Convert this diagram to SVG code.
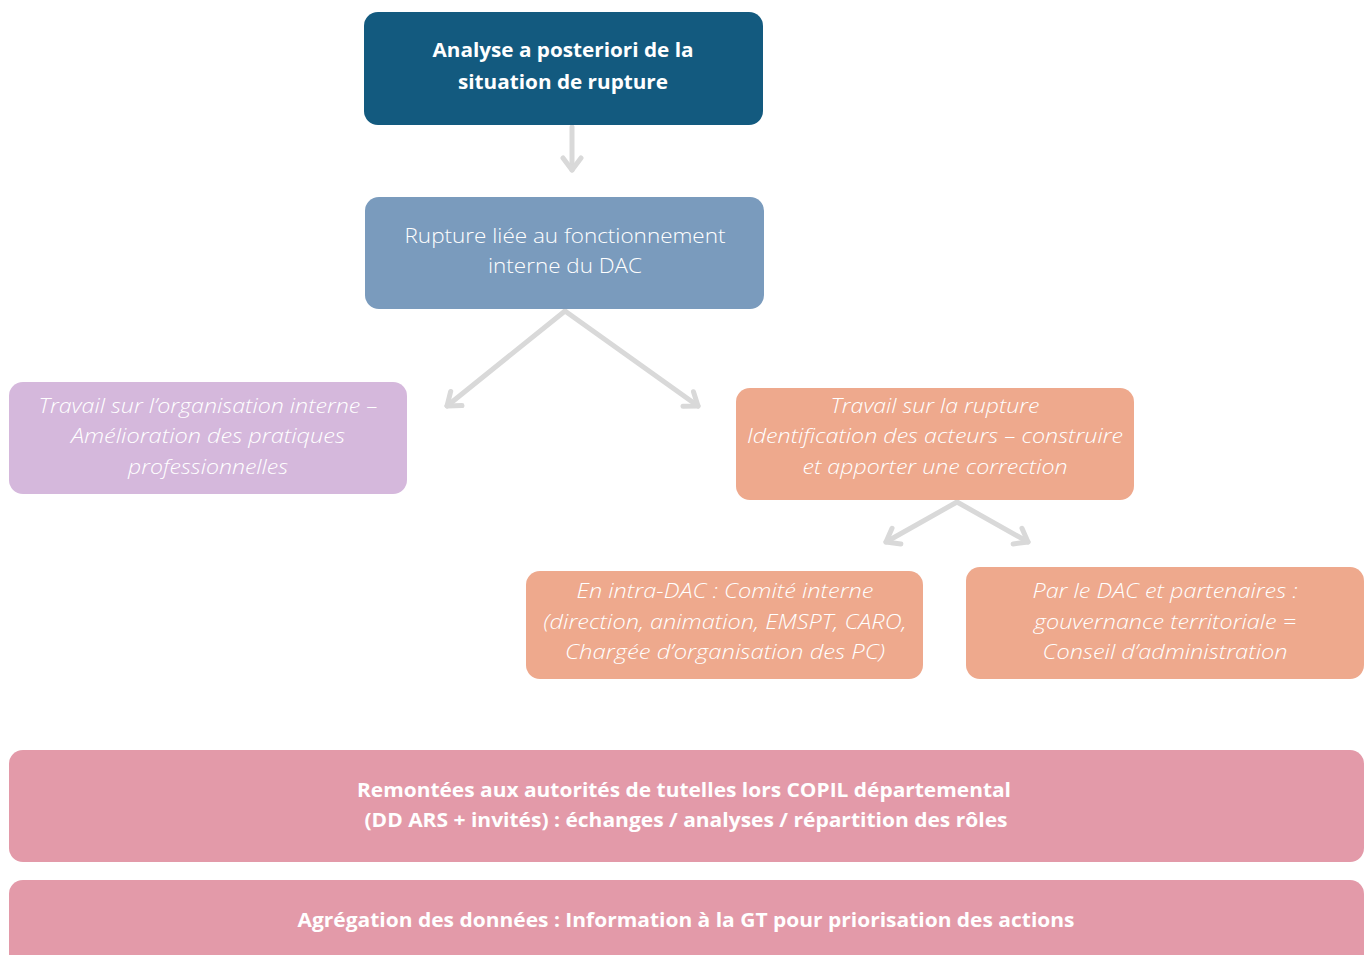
<svg xmlns="http://www.w3.org/2000/svg" width="1370" height="955" viewBox="0 0 1370 955">
<style>
.t{font-family:"Open Sans","Liberation Sans",sans-serif;font-size:20px;fill:#ffffff;text-anchor:middle}
.b{font-weight:700}
.l{font-weight:300}
.i{font-weight:300;font-style:italic}
.c{stroke:#d9d9d9;stroke-width:5;fill:none;stroke-linecap:round;marker-end:url(#h)}
</style>
<defs>
<marker id="h" markerUnits="userSpaceOnUse" viewBox="-16 -12 20 24" markerWidth="20" markerHeight="24" refX="0" refY="0" orient="auto">
<path d="M-12,-9 L0,0 L-12,9" fill="none" stroke="#d9d9d9" stroke-width="5" stroke-linecap="round" stroke-linejoin="round"/>
</marker>
</defs>
<rect width="1370" height="955" fill="#ffffff"/>
<g id="connectors">
<line class="c" x1="572" y1="127" x2="572" y2="170"/>
<line class="c" x1="565" y1="311" x2="447" y2="406"/>
<line class="c" x1="565" y1="311" x2="698" y2="406"/>
<line class="c" x1="957" y1="502" x2="886" y2="542"/>
<line class="c" x1="957" y1="502" x2="1028" y2="542"/>
</g>
<g id="n1">
<rect x="364" y="12" width="399" height="113" rx="14" fill="#135a7f"/>
<text class="t b" x="563" y="57" textLength="261" lengthAdjust="spacingAndGlyphs">Analyse a posteriori de la</text>
<text class="t b" x="563" y="89" textLength="210" lengthAdjust="spacingAndGlyphs">situation de rupture</text>
</g>
<g id="n2">
<rect x="365" y="197" width="399" height="112" rx="14" fill="#7a9bbd"/>
<text class="t l" x="565" y="243" textLength="321" lengthAdjust="spacingAndGlyphs">Rupture liée au fonctionnement</text>
<text class="t l" x="565" y="273" textLength="154" lengthAdjust="spacingAndGlyphs">interne du DAC</text>
</g>
<g id="n3">
<rect x="9" y="382" width="398" height="112" rx="14" fill="#d5b8dc"/>
<text class="t i" x="208" y="413" textLength="339" lengthAdjust="spacingAndGlyphs">Travail sur l’organisation interne –</text>
<text class="t i" x="208" y="443" textLength="274" lengthAdjust="spacingAndGlyphs">Amélioration des pratiques</text>
<text class="t i" x="208" y="474" textLength="160" lengthAdjust="spacingAndGlyphs">professionnelles</text>
</g>
<g id="n4">
<rect x="736" y="388" width="398" height="112" rx="14" fill="#eea98d"/>
<text class="t i" x="935" y="413" textLength="209" lengthAdjust="spacingAndGlyphs">Travail sur la rupture</text>
<text class="t i" x="935" y="443" textLength="376" lengthAdjust="spacingAndGlyphs">Identification des acteurs – construire</text>
<text class="t i" x="935" y="474" textLength="265" lengthAdjust="spacingAndGlyphs">et apporter une correction</text>
</g>
<g id="n5">
<rect x="526" y="571" width="397" height="108" rx="14" fill="#eea98d"/>
<text class="t i" x="725" y="598" textLength="297" lengthAdjust="spacingAndGlyphs">En intra-DAC : Comité interne</text>
<text class="t i" x="725" y="629" textLength="363" lengthAdjust="spacingAndGlyphs">(direction, animation, EMSPT, CARO,</text>
<text class="t i" x="725" y="659" textLength="320" lengthAdjust="spacingAndGlyphs">Chargée d’organisation des PC)</text>
</g>
<g id="n6">
<rect x="966" y="567" width="398" height="112" rx="14" fill="#eea98d"/>
<text class="t i" x="1165" y="598" textLength="265" lengthAdjust="spacingAndGlyphs">Par le DAC et partenaires :</text>
<text class="t i" x="1165" y="629" textLength="262" lengthAdjust="spacingAndGlyphs">gouvernance territoriale =</text>
<text class="t i" x="1165" y="659" textLength="245" lengthAdjust="spacingAndGlyphs">Conseil d’administration</text>
</g>
<g id="n7">
<rect x="9" y="750" width="1355" height="112" rx="14" fill="#e39aa9"/>
<text class="t b" x="684" y="797" textLength="654" lengthAdjust="spacingAndGlyphs">Remontées aux autorités de tutelles lors COPIL départemental</text>
<text class="t b" x="686" y="827" textLength="643" lengthAdjust="spacingAndGlyphs">(DD ARS + invités) : échanges / analyses / répartition des rôles</text>
</g>
<g id="n8">
<rect x="9" y="880" width="1355" height="112" rx="14" fill="#e39aa9"/>
<text class="t b" x="686" y="927" textLength="777" lengthAdjust="spacingAndGlyphs">Agrégation des données : Information à la GT pour priorisation des actions</text>
</g>
</svg>
